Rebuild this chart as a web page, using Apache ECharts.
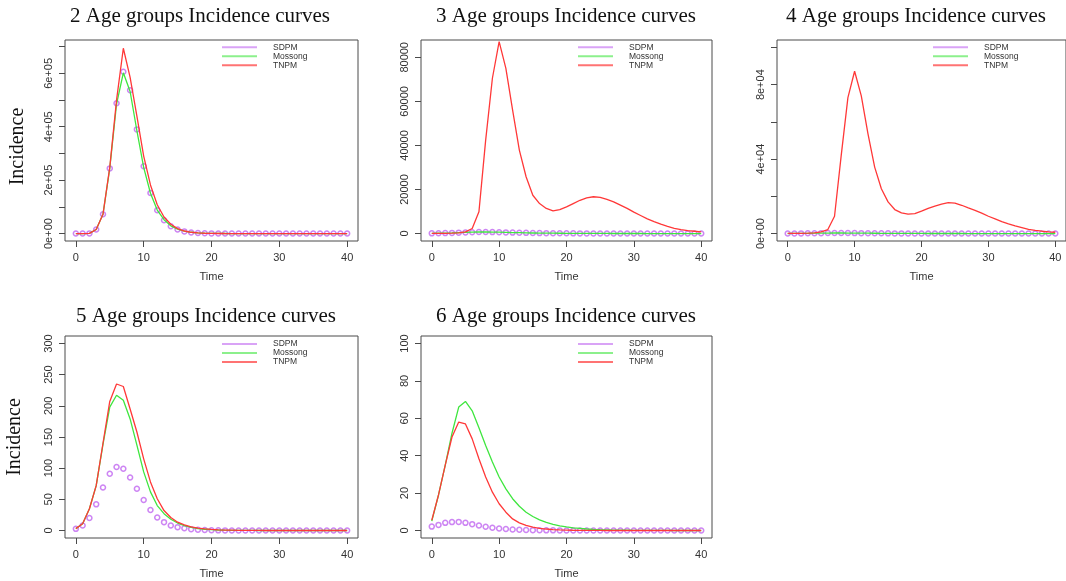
<!DOCTYPE html>
<html>
<head>
<meta charset="utf-8">
<script src="https://cdn.jsdelivr.net/npm/echarts@6/dist/echarts.min.js"></script>
<style>
html,body{margin:0;padding:0;background:#fff;}
#chart{width:1066px;height:581px;}
</style>
</head>
<body>
<div id="chart"></div>
<script>
// ---------- data ----------
const time = [0,1,2,3,4,5,6,7,8,9,10,11,12,13,14,15,16,17,18,19,20,21,22,23,24,25,26,27,28,29,30,31,32,33,34,35,36,37,38,39,40];
const seriesNames = ['SDPM','Mossong','TNPM'];
const xTicks = [0,10,20,30,40];

// 2 age groups
const sdpm2    = [0,0,500,15000,72000,244000,488000,606000,537000,390000,252000,152000,87000,50000,27500,15000,8000,4000,2000,1000,500,250,120,60,30,15,8,4,2,1,0,0,0,0,0,0,0,0,0,0,0];
const mossong2 = [0,0,500,15000,72000,244000,485000,602000,532000,385000,248000,151000,88000,52000,29000,16500,9000,4800,2400,1200,600,300,150,75,40,20,10,5,2,1,0,0,0,0,0,0,0,0,0,0,0];
const tnpm2    = [0,0,500,15000,72000,248000,500000,694000,585000,440000,290000,182000,108000,62000,35000,18500,9500,4800,2300,1100,500,240,110,50,25,12,6,3,1,0,0,0,0,0,0,0,0,0,0,0,0];
const yTicks2  = [0,100000,200000,300000,400000,500000,600000,700000];
const yLabVals2 = [0,200000,400000,600000];
const yLabTxt2  = ['0e+00','2e+05','4e+05','6e+05'];

// 3 age groups
const sdpm3    = [100,150,200,300,400,520,620,680,700,670,600,520,440,370,310,260,215,180,150,125,105,90,75,62,52,44,37,31,26,22,18,15,13,11,9,8,7,6,5,4,4];
const mossong3 = [100,150,210,310,420,540,640,700,710,680,610,530,450,380,315,262,218,182,152,127,106,90,75,62,52,44,37,31,26,22,18,15,13,11,9,8,7,6,5,4,4];
const tnpm3    = [50,80,120,200,350,800,2300,9850,42400,70500,87100,75000,56000,37900,25800,17400,13600,11400,10300,10900,12100,13600,15100,16200,16700,16400,15500,14400,12900,11400,9700,8200,6700,5450,4250,3300,2400,1800,1350,1050,750];
const yTicks3  = [0,20000,40000,60000,80000];
const yLabVals3 = [0,20000,40000,60000,80000];
const yLabTxt3  = ['0','20000','40000','60000','80000'];

// 4 age groups
const sdpm4    = [40,60,90,130,180,230,270,290,290,270,240,210,180,155,130,110,95,80,68,58,50,42,36,30,26,22,19,16,13,11,9,8,7,6,5,4,3,3,2,2,2];
const mossong4 = [40,60,95,135,185,235,275,295,295,275,245,212,182,156,131,111,95,80,68,58,50,42,36,30,26,22,19,16,13,11,9,8,7,6,5,4,3,3,2,2,2];
const tnpm4    = [50,80,120,200,350,900,2150,9300,42000,73000,87200,74000,53600,35700,24100,17000,12900,11100,10400,10700,12000,13500,14700,15800,16600,16400,15200,13800,12500,11000,9300,7900,6400,5200,4100,3200,2300,1700,1250,900,700];
const yTicks4  = [0,20000,40000,60000,80000,100000];
const yLabVals4 = [0,40000,80000];
const yLabTxt4  = ['0e+00','4e+04','8e+04'];

// 5 age groups
const sdpm5    = [2.7,8,20,42,69,91,102,99,85,67,49,33,21,13.4,8,5.4,3.7,2.2,1.3,0.8,0.5,0.3,0.2,0.1,0.1,0,0,0,0,0,0,0,0,0,0,0,0,0,0,0,0];
const mossong5 = [3,11,35,72,138,198,217,209,179,137,94,62,40,27,18,12,8,5,3.2,2,1.3,0.8,0.5,0.3,0.2,0.1,0.1,0,0,0,0,0,0,0,0,0,0,0,0,0,0];
const tnpm5    = [3,11,35,72,140,207,235,231,195,158,115,78,51,32,21,13.4,9,6,4,2.6,1.7,1.1,0.7,0.5,0.3,0.2,0.1,0.1,0,0,0,0,0,0,0,0,0,0,0,0,0];
const yTicks5  = [0,50,100,150,200,250,300];
const yLabVals5 = [0,50,100,150,200,250,300];
const yLabTxt5  = ['0','50','100','150','200','250','300'];

// 6 age groups
const sdpm6    = [2.1,3,4.1,4.5,4.6,4.1,3.4,2.7,2.0,1.5,1.1,0.8,0.55,0.4,0.3,0.2,0.15,0.1,0.08,0.06,0.04,0.03,0.02,0.01,0,0,0,0,0,0,0,0,0,0,0,0,0,0,0,0,0];
const mossong6 = [5,19,35,52,66,69,64,55,45.5,36.6,28.6,22.3,17,13,9.8,7.5,5.7,4.3,3.3,2.5,1.9,1.4,1.1,0.8,0.6,0.45,0.35,0.25,0.2,0.15,0.1,0.08,0.06,0.05,0.04,0.03,0.02,0.02,0.01,0.01,0.01];
const tnpm6    = [5.5,19,35,50,58,57,49,38.4,28.6,20.5,14.3,9.8,6.2,4.1,2.7,1.8,1.2,0.8,0.5,0.35,0.25,0.15,0.1,0.07,0.05,0.03,0.02,0.01,0,0,0,0,0,0,0,0,0,0,0,0,0];
const yTicks6  = [0,20,40,60,80,100];
const yLabVals6 = [0,20,40,60,80,100];
const yLabTxt6  = ['0','20','40','60','80','100'];

const titles = ['2 Age groups Incidence curves','3 Age groups Incidence curves','4 Age groups Incidence curves','5 Age groups Incidence curves','6 Age groups Incidence curves'];

// ---------- layout / style ----------
const C_SDPM = '#c066f0', C_MOS = '#3fe63f', C_TNPM = '#ff3838';
const panels = [
  {s:sdpm2,m:mossong2,t:tnpm2,yt:yTicks2,lv:yLabVals2,lt:yLabTxt2,ymin:-27900,ymax:724900,
   grid:{left:65,top:40,width:293,height:201},tx:200,ty:16,lx:222,ly:42.7,ylab:true,ng:37,np:12},
  {s:sdpm3,m:mossong3,t:tnpm3,yt:yTicks3,lv:yLabVals3,lt:yLabTxt3,ymin:-3380,ymax:87860,
   grid:{left:421,top:40,width:291,height:201},tx:566,ty:16,lx:578,ly:42.7,ylab:false},
  {s:sdpm4,m:mossong4,t:tnpm4,yt:yTicks4,lv:yLabVals4,lt:yLabTxt4,ymin:-4000,ymax:104000,
   grid:{left:777,top:40,width:292,height:201},tx:916,ty:16,lx:933,ly:42.7,ylab:false},
  {s:sdpm5,m:mossong5,t:tnpm5,yt:yTicks5,lv:yLabVals5,lt:yLabTxt5,ymin:-12,ymax:312,
   grid:{left:65,top:336,width:293,height:202},tx:206,ty:316,lx:222,ly:339.5,ylab:true,ng:40,np:0},
  {s:sdpm6,m:mossong6,t:tnpm6,yt:yTicks6,lv:yLabVals6,lt:yLabTxt6,ymin:-4,ymax:104,
   grid:{left:421,top:336,width:291,height:202},tx:566,ty:316,lx:578,ly:339.5,ylab:false}
];

const AX = '#4a4a4a', LAB = '#333';
const option = {animation:false, backgroundColor:'#fff', title:[], grid:[], xAxis:[], yAxis:[], legend:[], series:[]};

panels.forEach((p, i) => {
  option.title.push({text:titles[i], left:p.tx, top:p.ty, textAlign:'center', textVerticalAlign:'middle', padding:0,
    textStyle:{fontFamily:'Liberation Serif', fontSize:21, fontWeight:'normal', color:'#111'}});
  option.grid.push(Object.assign({show:true, borderColor:AX, borderWidth:1, backgroundColor:'transparent', containLabel:false}, p.grid));
  option.xAxis.push({type:'value', gridIndex:i, min:-1.6, max:41.6, position:'bottom',
    name:'Time', nameLocation:'middle', nameGap:30,
    nameTextStyle:{fontFamily:'Liberation Sans', fontSize:11, color:LAB},
    axisLine:{show:false, onZero:false}, splitLine:{show:false},
    axisTick:{show:true, length:6, inside:false, lineStyle:{color:AX, width:1}, customValues:xTicks},
    axisLabel:{show:true, margin:11, fontFamily:'Liberation Sans', fontSize:11, color:LAB, customValues:xTicks}});
  const yax = {type:'value', gridIndex:i, min:p.ymin, max:p.ymax, position:'left',
    axisLine:{show:false, onZero:false}, splitLine:{show:false},
    axisTick:{show:true, length:6, inside:false, lineStyle:{color:AX, width:1}, customValues:p.yt},
    axisLabel:{show:true, margin:11, rotate:90, fontFamily:'Liberation Sans', fontSize:11, color:LAB,
      customValues:p.lv, formatter:(v)=>{const k=p.lv.indexOf(v); return k>=0?p.lt[k]:'';}}};
  if (p.ylab) {
    yax.name = 'Incidence'; yax.nameLocation = 'middle'; yax.nameRotate = 90; yax.nameGap = p.ng;
    yax.nameTextStyle = {fontFamily:'Liberation Serif', fontSize:20, color:'#111', padding:[0,p.np,0,0]};
  }
  option.yAxis.push(yax);
  option.legend.push({orient:'vertical', left:p.lx, top:p.ly, padding:0, itemGap:0, itemWidth:35, itemHeight:2,
    selectedMode:false,
    textStyle:{fontFamily:'Liberation Sans', fontSize:8.5, lineHeight:8, color:'#333', padding:[0,0,0,11]},
    data:[{name:'SDPM', icon:'rect', itemStyle:{color:C_SDPM, opacity:0.6, borderWidth:0}},
          {name:'Mossong', icon:'rect', itemStyle:{color:C_MOS, opacity:0.6, borderWidth:0}},
          {name:'TNPM', icon:'rect', itemStyle:{color:C_TNPM, opacity:0.7, borderWidth:0}}]});
  const pair = (arr) => time.map((t, k) => [t, arr[k]]);
  option.series.push({name:'SDPM', type:'scatter', xAxisIndex:i, yAxisIndex:i, data:pair(p.s),
    symbol:'circle', symbolSize:5, itemStyle:{color:'rgba(0,0,0,0)', borderColor:C_SDPM, borderWidth:1.5}, z:2});
  option.series.push({name:'Mossong', type:'line', xAxisIndex:i, yAxisIndex:i, data:pair(p.m),
    showSymbol:false, symbol:'none', lineStyle:{color:C_MOS, width:1.3}, itemStyle:{color:C_MOS}, z:3});
  option.series.push({name:'TNPM', type:'line', xAxisIndex:i, yAxisIndex:i, data:pair(p.t),
    showSymbol:false, symbol:'none', lineStyle:{color:C_TNPM, width:1.3}, itemStyle:{color:C_TNPM}, z:4});
});

const chart = echarts.init(document.getElementById('chart'), null, {renderer:'canvas'});
chart.setOption(option);
</script>
</body>
</html>
